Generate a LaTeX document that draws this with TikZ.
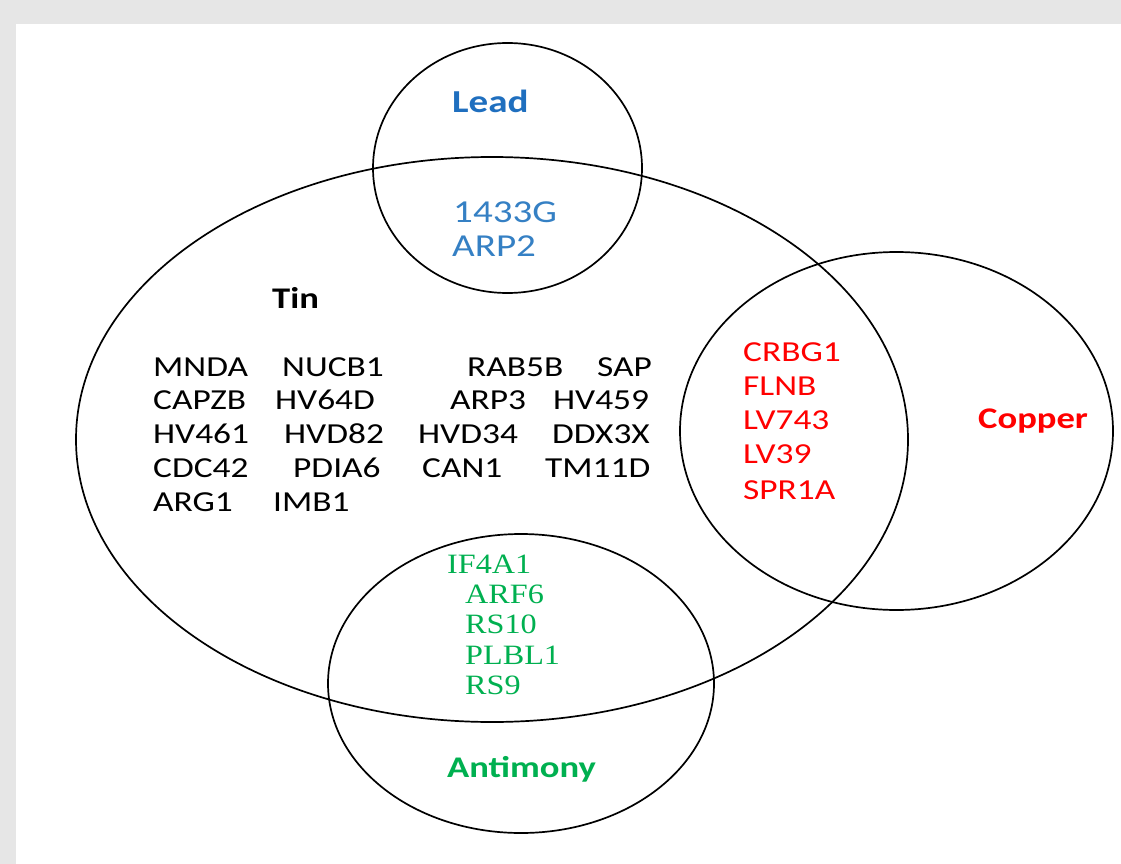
\documentclass[tikz,border=0pt]{standalone}
\usepackage{fontspec}
\setmainfont{Carlito}[FakeStretch=1.22]
\newfontfamily\serifgene{Liberation Serif}[FakeStretch=1.15]
\usepackage{xcolor}
\usetikzlibrary{shapes, positioning}

\definecolor{leadtitle}{HTML}{1F6FBF}
\definecolor{leadblue}{HTML}{3580C4}
\definecolor{copperred}{HTML}{FF0000}
\definecolor{antigreen}{HTML}{00B050}
\definecolor{pagegray}{HTML}{E6E6E6}

\tikzset{
  setring/.style={ellipse, draw, line width=1.7pt, inner sep=0pt},
  gene/.style={anchor=west, inner sep=0pt, font=\fontsize{29}{32}\selectfont},
  setname/.style={anchor=west, inner sep=0pt, font=\fontsize{30}{32}\selectfont\bfseries},
}

\begin{document}
\begin{tikzpicture}[x=1pt, y=-1pt]
  \useasboundingbox (0,0) rectangle (1121,864);
  \fill[pagegray] (0,0) rectangle (1121,864);
  \fill[white] (16,24) rectangle (1121,864);

  % the four sets
  \node (tin) [setring, minimum width=832pt, minimum height=565pt] at (492,439.5) {};
  \node (lead) [setring, minimum width=269pt, minimum height=250pt] at (507.5,168) {};
  \node (copper) [setring, minimum width=433pt, minimum height=358pt] at (896.5,431) {};
  \node (antimony) [setring, minimum width=386pt, minimum height=299pt] at (521,683.5) {};

  % Lead
  \node (leadname) [setname, text=leadtitle, font=\fontsize{32}{34}\selectfont\bfseries] at (452,101) {Lead};
  \node (g1433G) [gene, text=leadblue, font=\fontsize{32}{34}\selectfont] at (453,212) {1433G};
  \node (ARP2) [gene, text=leadblue, font=\fontsize{32}{34}\selectfont] at (452,246) {ARP2};

  % Tin
  \node (tinname) [setname] at (272,298) {Tin};
  \foreach \name/\x/\y in {MNDA/153/367, NUCB1/282/367, RAB5B/467/367, SAP/597/367,
      CAPZB/153/400, HV64D/275/400, ARP3/450/400, HV459/553/400,
      HV461/153/434, HVD82/284/434, HVD34/418/434, DDX3X/552/434,
      CDC42/153/468, PDIA6/293/468, CAN1/422/468, TM11D/545/468,
      ARG1/153/502, IMB1/273/502}
    \node (\name) [gene] at (\x,\y) {\name};

  % Copper
  \foreach \name/\y in {CRBG1/352, FLNB/386, LV743/420, LV39/454, SPR1A/490}
    \node (\name) [gene, text=copperred] at (743,\y) {\name};
  \node (coppername) [setname, text=copperred] at (978,421) {Copper};

  % Antimony
  \node (IF4A1) [gene, text=antigreen, font=\serifgene\fontsize{28}{30}\selectfont] at (447,564) {IF4A1};
  \foreach \name/\y in {ARF6/594, RS10/624, PLBL1/655, RS9/685}
    \node (\name) [gene, text=antigreen, font=\serifgene\fontsize{28}{30}\selectfont] at (465,\y) {\name};
  \node (antimonyname) [setname, text=antigreen] at (447,769) {Antimony};
\end{tikzpicture}
\end{document}
